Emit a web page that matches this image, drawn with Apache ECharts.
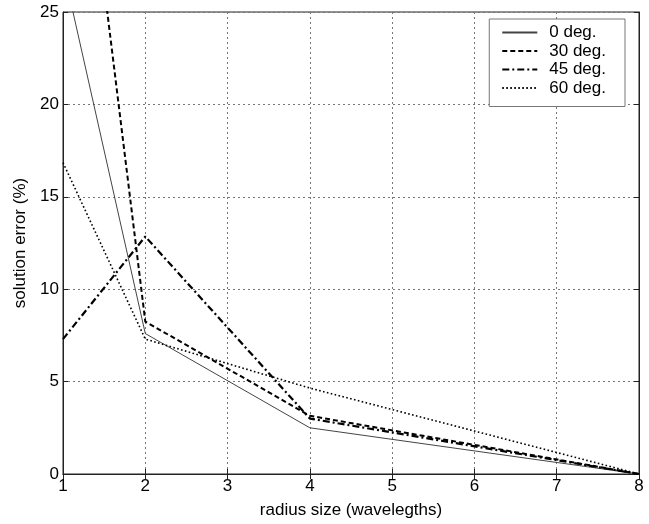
<!DOCTYPE html>
<html>
<head>
<meta charset="utf-8">
<script src="https://cdn.jsdelivr.net/npm/echarts@6/dist/echarts.min.js"></script>
<style>
  html, body { margin: 0; padding: 0; background: #fff; }
  #chart { width: 649px; height: 524px; }
</style>
</head>
<body>
<div id="chart"></div>
<script>
// radius sizes (wavelengths) and solution error (%) per incidence angle
const radii = [1, 2, 4, 8];
const err0 = [27.4, 7.6, 2.5, 0];
const err30 = [44.5, 8.25, 3.15, 0];
const err45 = [7.3, 12.85, 3.0, 0];
const err60 = [16.85, 7.3, 4.65, 0];
const seriesNames = ['0 deg.', '30 deg.', '45 deg.', '60 deg.'];
const xTicks = [1, 2, 3, 4, 5, 6, 7, 8];
const yTicks = [0, 5, 10, 15, 20, 25];

const font = 'Liberation Sans, Arial, Helvetica, sans-serif';
const pairs = (ys) => radii.map((x, i) => [x, ys[i]]);

const chart = echarts.init(document.getElementById('chart'), null, { renderer: 'canvas' });

const gridLine = { show: true, lineStyle: { color: '#777', type: [2, 3], width: 1 } };

chart.setOption({
  animation: false,
  backgroundColor: '#fff',
  grid: { left: 63, right: 10, top: 12, bottom: 49, show: true, borderColor: '#222', borderWidth: 1 },
  legend: {
    orient: 'vertical',
    right: 24,
    top: 19,
    data: seriesNames,
    backgroundColor: '#fff',
    borderColor: '#777',
    borderWidth: 1,
    borderRadius: 0,
    padding: [5, 8, 10, 12],
    itemWidth: 35,
    itemHeight: 12,
    itemGap: 1.5,
    itemStyle: { opacity: 0 },
    textStyle: { fontFamily: font, fontSize: 17, lineHeight: 17, color: '#000', padding: [0, 11, 0, 7] }
  },
  xAxis: [{
    type: 'value',
    min: xTicks[0],
    max: xTicks[xTicks.length - 1],
    interval: 1,
    name: 'radius size (wavelegths)',
    nameLocation: 'middle',
    nameGap: 28,
    nameTextStyle: { fontFamily: font, fontSize: 17, color: '#000' },
    axisLine: { show: true, lineStyle: { color: '#222', width: 1 } },
    axisTick: { show: true, inside: true, length: 5, lineStyle: { color: '#222' } },
    axisLabel: { fontFamily: font, fontSize: 17, color: '#000', margin: 4 },
    splitLine: gridLine
  }, {
    type: 'value',
    position: 'top',
    min: xTicks[0],
    max: xTicks[xTicks.length - 1],
    interval: 1,
    axisLine: { show: true, lineStyle: { color: '#222', width: 1 } },
    axisTick: { show: true, inside: true, length: 5, lineStyle: { color: '#222' } },
    axisLabel: { show: false },
    splitLine: { show: false }
  }],
  yAxis: [{
    type: 'value',
    min: yTicks[0],
    max: yTicks[yTicks.length - 1],
    interval: 5,
    name: 'solution error (%)',
    nameLocation: 'middle',
    nameGap: 33,
    nameTextStyle: { fontFamily: font, fontSize: 17, color: '#000' },
    axisLine: { show: true, lineStyle: { color: '#222', width: 1 } },
    axisTick: { show: true, inside: true, length: 5, lineStyle: { color: '#222' } },
    axisLabel: { fontFamily: font, fontSize: 17, color: '#000', margin: 4 },
    splitLine: gridLine
  }, {
    type: 'value',
    position: 'right',
    min: yTicks[0],
    max: yTicks[yTicks.length - 1],
    interval: 5,
    axisLine: { show: true, lineStyle: { color: '#222', width: 1 } },
    axisTick: { show: true, inside: true, length: 5, lineStyle: { color: '#222' } },
    axisLabel: { show: false },
    splitLine: { show: false }
  }],
  series: [
    {
      name: seriesNames[0], type: 'line', data: pairs(err0), symbol: 'none', clip: true,
      lineStyle: { color: '#444', width: 1, type: 'solid' }, itemStyle: { color: '#444' }
    },
    {
      name: seriesNames[1], type: 'line', data: pairs(err30), symbol: 'none', clip: true,
      lineStyle: { color: '#000', width: 2, type: [5, 3] }, itemStyle: { color: '#000' }
    },
    {
      name: seriesNames[2], type: 'line', data: pairs(err45), symbol: 'none', clip: true,
      lineStyle: { color: '#000', width: 2.2, type: [7, 3, 2, 3] }, itemStyle: { color: '#000' }
    },
    {
      name: seriesNames[3], type: 'line', data: pairs(err60), symbol: 'none', clip: true,
      lineStyle: { color: '#000', width: 1.6, type: [1.6, 2.4] }, itemStyle: { color: '#000' }
    }
  ]
});
</script>
</body>
</html>
